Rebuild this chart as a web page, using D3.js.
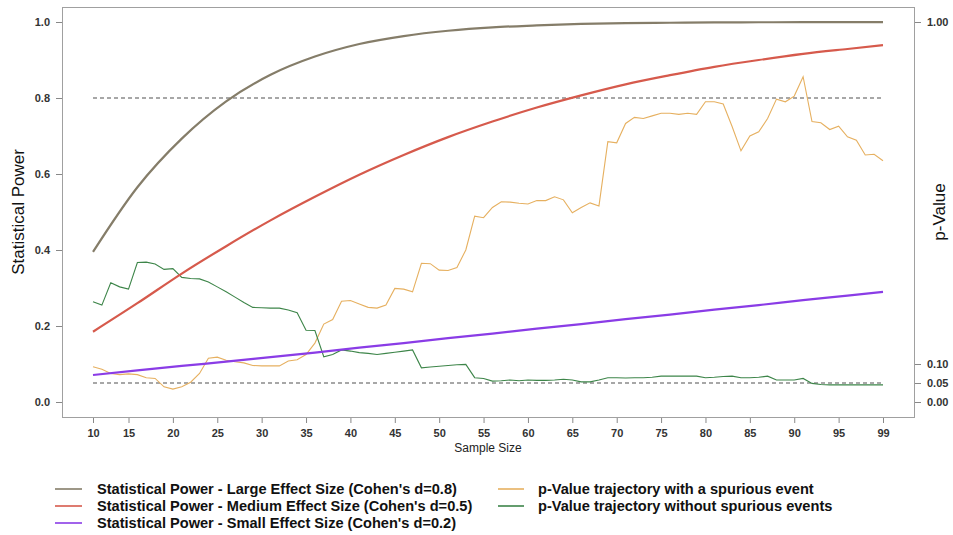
<!DOCTYPE html>
<html>
<head>
<meta charset="utf-8">
<script src="https://cdn.jsdelivr.net/npm/d3@7"></script>
<style>
  body { margin: 0; background: #fff; }
  svg { display: block; font-family: "Liberation Sans", Arial, sans-serif; }
</style>
</head>
<body>
<svg id="chart" width="953" height="535"></svg>
<script>
// ---------- data ----------
const sampleSizes = d3.range(10, 100); // 10..99

// power curves sampled at these sample sizes
const powerN = [10, 15, 20, 25, 30, 35, 40, 45, 50, 55, 60, 65, 70, 75, 80, 85, 90, 95, 99];
const powerLarge  = [0.395, 0.565, 0.693, 0.791, 0.861, 0.909, 0.942, 0.963, 0.977, 0.986, 0.991, 0.995, 0.997, 0.998, 0.999, 0.9993, 0.9996, 0.9998, 0.9999];
const powerMedium = [0.185, 0.260, 0.338, 0.410, 0.478, 0.540, 0.598, 0.650, 0.697, 0.738, 0.775, 0.807, 0.836, 0.860, 0.882, 0.900, 0.916, 0.929, 0.939];
const powerSmall  = [0.071, 0.083, 0.095, 0.106, 0.118, 0.130, 0.143, 0.155, 0.168, 0.180, 0.193, 0.205, 0.218, 0.230, 0.243, 0.255, 0.268, 0.280, 0.290];

// p-value trajectories, one value per sample size 10..99
const pSpurious = [
  0.093, 0.086, 0.075, 0.072, 0.074, 0.072, 0.064, 0.062, 0.040, 0.034,
  0.040, 0.052, 0.075, 0.115, 0.118, 0.110, 0.106, 0.103, 0.096, 0.095,
  0.095, 0.095, 0.108, 0.111, 0.125, 0.155, 0.205, 0.217, 0.265, 0.267,
  0.258, 0.249, 0.247, 0.255, 0.299, 0.297, 0.290, 0.365, 0.364, 0.347,
  0.346, 0.354, 0.400, 0.489, 0.485, 0.512, 0.527, 0.526, 0.523, 0.521,
  0.530, 0.530, 0.540, 0.532, 0.498, 0.512, 0.524, 0.516, 0.685, 0.682,
  0.733, 0.749, 0.746, 0.753, 0.760, 0.760, 0.757, 0.760, 0.757, 0.790,
  0.790, 0.784, 0.725, 0.661, 0.700, 0.711, 0.746, 0.797, 0.790, 0.805,
  0.856, 0.738, 0.735, 0.717, 0.726, 0.698, 0.689, 0.650, 0.652, 0.635
];
const pClean = [
  0.264, 0.255, 0.314, 0.303, 0.297, 0.367, 0.368, 0.363, 0.349, 0.351,
  0.328, 0.325, 0.324, 0.316, 0.303, 0.290, 0.276, 0.262, 0.249, 0.248,
  0.247, 0.247, 0.242, 0.235, 0.189, 0.188, 0.119, 0.125, 0.137, 0.134,
  0.130, 0.128, 0.125, 0.128, 0.131, 0.134, 0.137, 0.090, 0.092, 0.094,
  0.096, 0.098, 0.099, 0.064, 0.062, 0.055, 0.056, 0.058, 0.056, 0.058,
  0.057, 0.057, 0.058, 0.060, 0.058, 0.053, 0.053, 0.058, 0.064, 0.064,
  0.063, 0.064, 0.064, 0.065, 0.068, 0.068, 0.068, 0.068, 0.068, 0.064,
  0.065, 0.067, 0.068, 0.064, 0.064, 0.065, 0.068, 0.058, 0.058, 0.058,
  0.062, 0.049, 0.046, 0.045, 0.045, 0.045, 0.045, 0.045, 0.045, 0.045
];

const thresholds = [0.8, 0.05];

const xTickPos    = [10, 14, 19, 24, 29, 34, 39, 44, 49, 54, 59, 64, 69, 74, 79, 84, 89, 94, 99];
const xTickLabels = ["10","15","20","25","30","35","40","45","50","55","60","65","70","75","80","85","90","95","99"];
const yLeftTicks  = [0, 0.2, 0.4, 0.6, 0.8, 1.0];
const yRightTicks = [0, 0.05, 0.10, 1.00];

const legendLeft = [
  { label: "Statistical Power - Large Effect Size (Cohen's d=0.8)", color: "#857d69" },
  { label: "Statistical Power - Medium Effect Size (Cohen's d=0.5)", color: "#d65a4c" },
  { label: "Statistical Power - Small Effect Size (Cohen's d=0.2)", color: "#8a3ce6" }
];
const legendRight = [
  { label: "p-Value trajectory with a spurious event", color: "#e6b060" },
  { label: "p-Value trajectory without spurious events", color: "#3d8549" }
];

// ---------- drawing ----------
const svg = d3.select("#chart");
const x = d3.scaleLinear().domain([10, 99]).range([93, 883]);
const y = d3.scaleLinear().domain([0, 1]).range([402, 22]);
const frame = { x0: 62, x1: 914, y0: 7, y1: 417 };

svg.append("rect")
  .attr("x", frame.x0 + 0.5).attr("y", frame.y0 + 0.5)
  .attr("width", frame.x1 - frame.x0).attr("height", frame.y1 - frame.y0)
  .attr("fill", "none").attr("stroke", "#a0a0a0").attr("stroke-width", 1);

function styleAxis(g) {
  g.select(".domain").remove();
  g.selectAll(".tick line").attr("stroke", "#888");
  g.selectAll(".tick text").attr("fill", "#333").attr("font-weight", "bold")
    .attr("font-size", 11).attr("font-family", "Liberation Sans, Arial, sans-serif");
}

svg.append("g").attr("transform", `translate(${frame.x0},0)`)
  .call(d3.axisLeft(y).tickValues(yLeftTicks).tickFormat(d3.format(".1f")).tickSize(6).tickPadding(6))
  .call(styleAxis);

svg.append("g").attr("transform", `translate(${frame.x1 + 1},0)`)
  .call(d3.axisRight(y).tickValues(yRightTicks).tickFormat(d3.format(".2f")).tickSize(6).tickPadding(6))
  .call(styleAxis);

svg.append("g").attr("transform", `translate(0,${frame.y1 + 1})`)
  .call(d3.axisBottom(x).tickValues(xTickPos).tickFormat((d, i) => xTickLabels[i]).tickSize(5).tickPadding(6))
  .call(styleAxis);

// axis titles
svg.append("text").attr("transform", "translate(24,212) rotate(-90)")
  .attr("text-anchor", "middle").attr("font-size", 17).attr("fill", "#111").text("Statistical Power");
svg.append("text").attr("transform", "translate(945,212) rotate(-90)")
  .attr("text-anchor", "middle").attr("font-size", 17).attr("fill", "#111").text("p-Value");
svg.append("text").attr("x", 488).attr("y", 452)
  .attr("text-anchor", "middle").attr("font-size", 12).attr("fill", "#222").text("Sample Size");

// threshold dashed lines
svg.selectAll(".thr").data(thresholds).enter().append("line")
  .attr("x1", x(10)).attr("x2", x(99))
  .attr("y1", d => y(d)).attr("y2", d => y(d))
  .attr("stroke", "#8a8a8a").attr("stroke-width", 1.3).attr("stroke-dasharray", "4,3");

const powerLine = d3.line().x((d, i) => x(powerN[i])).y(d => y(d)).curve(d3.curveMonotoneX);
const pLine = d3.line().x((d, i) => x(sampleSizes[i])).y(d => y(d));

svg.append("path").datum(pSpurious).attr("d", pLine)
  .attr("fill", "none").attr("stroke", legendRight[0].color).attr("stroke-width", 1.1);
svg.append("path").datum(pClean).attr("d", pLine)
  .attr("fill", "none").attr("stroke", legendRight[1].color).attr("stroke-width", 1.1);

[powerSmall, powerMedium, powerLarge].forEach((s, k) => {
  const col = [legendLeft[2].color, legendLeft[1].color, legendLeft[0].color][k];
  svg.append("path").datum(s).attr("d", powerLine)
    .attr("fill", "none").attr("stroke", col).attr("stroke-width", 2.2);
});

// legend
function drawLegend(items, lx, tx, y0, dy, width) {
  const g = svg.append("g");
  items.forEach((it, i) => {
    const yy = y0 + i * dy;
    g.append("line").attr("x1", lx).attr("x2", lx + width).attr("y1", yy).attr("y2", yy)
      .attr("stroke", it.color).attr("stroke-width", 1.6);
    g.append("text").attr("x", tx).attr("y", yy).attr("dy", "0.35em")
      .attr("font-size", 14.6).attr("font-weight", "bold").attr("fill", "#111").text(it.label);
  });
}
drawLegend(legendLeft, 55, 97, 489, 17, 27);
drawLegend(legendRight, 498, 538, 489, 17, 26);
</script>
</body>
</html>
